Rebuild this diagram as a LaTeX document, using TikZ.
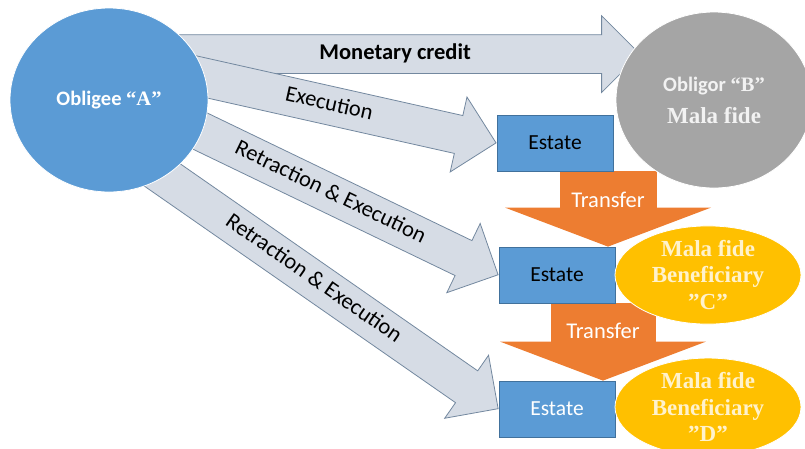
\documentclass[tikz,border=0pt]{standalone}
\usepackage{fontspec}
\setmainfont{Carlito}
\newfontfamily\tnr{Liberation Serif}
\usetikzlibrary{arrows.meta,calc,positioning,shapes.geometric,shapes.arrows,backgrounds}
\definecolor{blueA}{HTML}{5B9BD5}
\definecolor{blueline}{HTML}{41719C}
\definecolor{arrowfill}{HTML}{D6DCE5}
\definecolor{arrowline}{HTML}{73889F}
\definecolor{grayB}{HTML}{A5A5A5}
\definecolor{orangeT}{HTML}{ED7D31}
\definecolor{yellowC}{HTML}{FFC000}
\definecolor{cream}{HTML}{FFF2CC}

% fat arrow from a border point (#1) to (#2), tail pulled back 25pt inside the circle
\newcommand{\fatarrow}[4]{%
  \path let \p1=($(#1)!-25pt!(#2)$), \p2=(#2),
    \n1={atan2(\y2-\y1,\x2-\x1)}, \n2={veclen(\x2-\x1,\y2-\y1)} in
    node[fat, minimum height=\n2, rotate=\n1, anchor=tip] (#4) at (\p2) {#3};}

\begin{document}
\begin{tikzpicture}[x=1pt, y=-1pt,
    fat/.style={single arrow, draw=arrowline, fill=arrowfill, line width=0.8pt,
      single arrow head extend=19pt, minimum width=76pt,
      text height=15pt, text depth=5pt, inner xsep=3pt, inner ysep=9pt,
      font=\fontsize{22.5}{26}\selectfont},
    party/.style={ellipse, draw=white, line width=0.8pt, align=center,
      font=\fontsize{20.5}{32}\selectfont\bfseries},
    estate/.style={rectangle, draw=blueline, fill=blueA, line width=0.8pt,
      minimum width=116pt, minimum height=56pt, font=\fontsize{21.5}{25}\selectfont},
    benef/.style={ellipse, draw=white, fill=yellowC, text=cream, line width=0.8pt,
      minimum width=186pt, minimum height=92pt, inner sep=0pt, align=center,
      font=\tnr\bfseries\fontsize{23}{26.5}\selectfont},
    transfer/.style={draw=orangeT, line width=#1,
      -{Triangle[length=39pt, width=206pt, line width=0pt]}},
    tlabel/.style={text=white, font=\fontsize{22.5}{26}\selectfont}]
  \useasboundingbox (0,0) rectangle (805,448);
  \clip (0,0) rectangle (805,448);
  % parties
  \node[party, fill=blueA, text=white, minimum width=198pt, minimum height=184pt] (A) at (109,100)
    {Obligee {\tnr “A”}};
  \node[party, fill=grayB, text=white!95!black, minimum width=196pt, minimum height=176pt] (B) at (714,100)
    {Obligor {\tnr “B”}\\{\tnr\fontsize{23}{32}\selectfont Mala fide}};
  % estates
  \node[estate] (E1) at (555,143) {Estate};
  \node[estate] (E2) at (557,275) {Estate};
  \node[estate, text=white] (E3) at (557,409) {Estate};
  % beneficiaries
  \node[benef] (C) at (708,275) {Mala fide\\Beneficiary\\”C”};
  \node[benef] (D) at (708,407) {Mala fide\\Beneficiary\\”D”};
  \coordinate (montip) at ($(B.west |- A.28)+(25,0)$);
  \begin{scope}[on background layer]
    \fatarrow{A.28}{montip}{\bfseries Monetary credit}{mon}
    \fatarrow{A.13}{E1.west}{Execution}{exe}
    \fatarrow{A.-19}{E2.west}{Retraction \& Execution}{rex1}
    \fatarrow{A.-54}{E3.west}{Retraction \& Execution}{rex2}
    % transfers
    \draw[transfer=97pt] ([xshift=53pt]E1.south) -- ([xshift=51pt]E2.north)
      node[tlabel, pos=.38] (t1) {Transfer};
    \draw[transfer=105pt] ([xshift=46pt]E2.south) -- ([xshift=46pt]E3.north)
      node[tlabel, pos=.35] (t2) {Transfer};
  \end{scope}
\end{tikzpicture}
\end{document}
